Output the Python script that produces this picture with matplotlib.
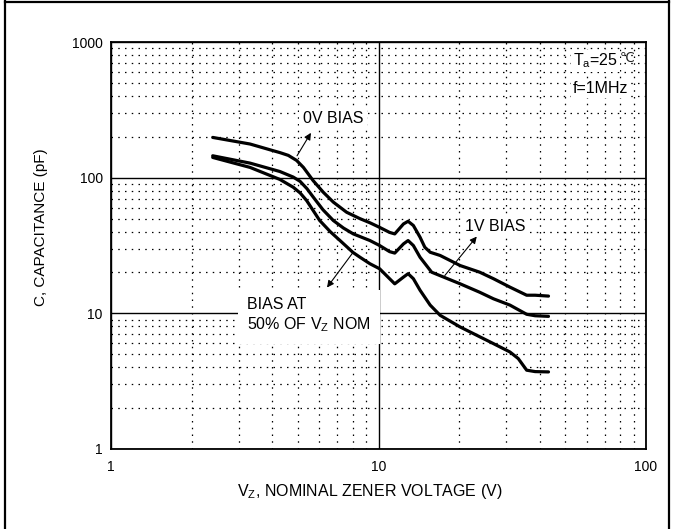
import matplotlib.pyplot as plt
from matplotlib.lines import Line2D
from matplotlib.ticker import LogLocator, NullFormatter

plt.rcParams['font.family'] = ['Liberation Sans', 'DejaVu Sans']
plt.rcParams['mathtext.fontset'] = 'custom'
plt.rcParams['mathtext.rm'] = 'Liberation Sans'
plt.rcParams['mathtext.it'] = 'Liberation Sans'

# curves (Vz in V, C in pF)
vz_0v = [2.40, 3.31, 4.04, 4.28, 4.60, 4.94, 5.24, 5.70, 6.22, 6.78, 7.60,
         8.50, 9.29, 10.1, 11.0, 11.5, 12.4, 12.9, 13.5, 14.3, 14.9, 15.6,
         17.0, 20.2, 23.9, 26.9, 31.0, 35.8, 38.5, 43.2]
c_0v = [198, 177, 158, 153, 146, 134, 119, 95, 78, 66, 55.6,
        50, 46.5, 43, 39.5, 38.5, 45.6, 47.7, 44.4, 36.4, 30.7, 28.2,
        26.7, 22.5, 20.1, 18.0, 15.6, 13.6, 13.6, 13.4]

vz_1v = [2.40, 3.31, 4.28, 4.80, 5.09, 5.40, 5.70, 6.20, 6.78, 7.40, 8.05,
         9.29, 10.1, 11.0, 11.5, 12.4, 12.9, 13.5, 14.3, 15.8, 20.2, 23.9,
         26.9, 31.0, 35.8, 38.5, 43.2]
c_1v = [145, 128, 111, 101, 94, 83, 72, 58, 48.3, 42.5, 38.5,
        34.4, 31.6, 28.5, 27.8, 32.5, 34.4, 31.6, 25.9, 20.1, 16.5, 14.3,
        12.8, 11.5, 9.84, 9.6, 9.5]

vz_50 = [2.40, 3.31, 4.28, 4.80, 5.10, 5.39, 6.03, 6.60, 7.18, 8.03, 8.53,
         9.29, 10.1, 11.0, 11.5, 12.4, 12.9, 13.5, 14.3, 15.6, 17.0, 20.2,
         26.9, 31.0, 33.3, 35.8, 38.5, 43.2]
c_50 = [141, 119, 97, 85, 77, 67.7, 48.3, 40, 34.4, 28.1, 25.9,
        23.2, 21.3, 18.0, 16.5, 18.5, 19.6, 18.0, 14.8, 11.5, 9.67, 7.93,
        5.98, 5.19, 4.64, 3.81, 3.72, 3.70]

fig = plt.figure(figsize=(6.73, 5.29), dpi=100)
ax = fig.add_axes([111 / 673, 1 - 449 / 529, 535 / 673, 407 / 529])

for vz, c in [(vz_0v, c_0v), (vz_1v, c_1v), (vz_50, c_50)]:
    ax.plot(vz, c, color='black', lw=2.3, solid_joinstyle='round',
            solid_capstyle='round', zorder=4)

ax.set_xscale('log')
ax.set_yscale('log')
ax.set_xlim(1, 100)
ax.set_ylim(1, 1000)
ax.xaxis.set_minor_locator(LogLocator(base=10, subs=range(2, 10), numticks=20))
ax.yaxis.set_minor_locator(LogLocator(base=10, subs=range(2, 10), numticks=20))
ax.xaxis.set_minor_formatter(NullFormatter())
ax.yaxis.set_minor_formatter(NullFormatter())
ax.set_xticks([1, 10, 100])
ax.set_xticklabels(['1', '10', '100'])
ax.set_yticks([1, 10, 100, 1000])
ax.set_yticklabels(['1', '10', '100', '1000'])
ax.tick_params(which='both', length=0, labelsize=10)
ax.tick_params(axis='x', pad=8)
ax.tick_params(axis='y', pad=6)

ax.grid(which='major', color='black', lw=1.0, ls='-')
ax.grid(which='minor', color='black', lw=0.9, ls=(0, (1.2, 4.2)))
ax.set_axisbelow(True)
for s in ax.spines.values():
    s.set_linewidth(1.3)

ax.set_xlabel(r'V$_{\mathrm{Z}}$, NOMINAL ZENER VOLTAGE (V)', fontsize=11.5)
ax.xaxis.set_label_coords(0.484, -0.08)
ax.set_ylabel('C, CAPACITANCE (pF)', fontsize=11)
ax.yaxis.set_label_coords(-0.118, 0.545)

box = dict(boxstyle='square,pad=0.25', fc='white', ec='none')
ax.text(5.22, 272, '0V BIAS', fontsize=11.5, ha='left', va='center',
        bbox=box, zorder=5)
ax.text(21.1, 43.6, '1V BIAS', fontsize=11.5, ha='left', va='center',
        bbox=box, zorder=5)
ax.text(3.23, 9.6, 'BIAS AT\n50% OF V$_{\\mathrm{Z}}$ NOM', fontsize=11.5,
        ha='left', va='center', linespacing=1.2, zorder=5,
        bbox=dict(boxstyle='square,pad=0.6', fc='white', ec='none'))
small = dict(boxstyle='square,pad=0.1', fc='white', ec='none')
t_a = ax.text(53.3, 725, 'T$_{\\mathrm{a}}$=25', fontsize=11.5, ha='left',
              va='center', bbox=small, zorder=5)
ax.annotate('℃', xy=(1, 0.62), xycoords=t_a, xytext=(1, 0),
            textcoords='offset points', fontsize=9.5, ha='left',
            va='center', family='DejaVu Sans', color='#222222', zorder=5)
ax.text(53.3, 451, 'f=1MHz', fontsize=11.5, ha='left', va='center',
        bbox=small, zorder=5)

arrow = dict(arrowstyle='-|>', color='black', lw=0.8, mutation_scale=10,
             shrinkA=0, shrinkB=0)
ax.annotate('', xy=(5.59, 214), xytext=(4.96, 145), arrowprops=arrow, zorder=6)
ax.annotate('', xy=(23.3, 36.8), xytext=(17.7, 19.0), arrowprops=arrow, zorder=6)
ax.annotate('', xy=(6.42, 15.5), xytext=(8.03, 28.1), arrowprops=arrow, zorder=6)

# outer frame of the figure
for xs, ys in [([4.5 / 673, 4.5 / 673], [0, 1]),
               ([4.5 / 673, 669 / 673], [1 - 1.5 / 529, 1 - 1.5 / 529]),
               ([669 / 673, 669 / 673], [0, 1])]:
    fig.add_artist(Line2D(xs, ys, color='black', lw=1.6,
                          transform=fig.transFigure))

plt.savefig('out.png', dpi=100)
plt.close()
